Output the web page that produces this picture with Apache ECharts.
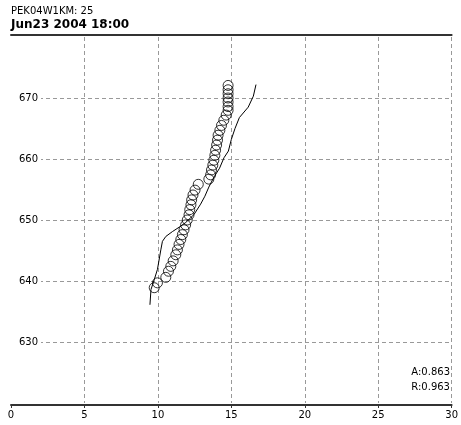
<!DOCTYPE html>
<html>
<head>
<meta charset="utf-8">
<script src="https://cdn.jsdelivr.net/npm/echarts@6/dist/echarts.min.js"></script>
<style>html,body{margin:0;padding:0;background:#fff;}#c{width:461px;height:425px;}</style>
</head>
<body>
<div id="c"></div>
<script>
// Station / time labels
const stationLabel = 'PEK04W1KM: 25';
const timeLabel = 'Jun23 2004 18:00';
const statsLabels = ['A:0.863', 'R:0.963'];

// Axis tick ranges
const xTicks = [0, 5, 10, 15, 20, 25, 30];
const yTicks = [630, 640, 650, 660, 670];

// Solid line profile [x, height]
const lineX = [9.46, 9.53, 9.75, 9.97, 10.2, 10.31, 10.54, 10.99, 11.5, 11.9, 12.46, 12.91, 13.2, 13.47, 13.81, 14.2, 14.5, 14.8, 15.0, 15.25, 15.55, 16.15, 16.5, 16.68];
const lineY = [636.1, 638.6, 640.2, 641.9, 645.1, 646.5, 647.3, 648.1, 648.9, 649.6, 650.9, 652.6, 653.9, 655.4, 657.0, 658.5, 660.2, 661.3, 663.2, 665.0, 666.8, 668.5, 670.3, 672.2];

// Circle observations [x, height]
const circleX = [9.75, 9.97, 10.54, 10.72, 10.88, 11.04, 11.22, 11.33, 11.44, 11.56, 11.67, 11.78, 11.89, 12.0, 12.12, 12.17, 12.25, 12.3, 12.39, 12.53, 12.75, 13.47, 13.59, 13.65, 13.74, 13.81, 13.88, 13.93, 14.0, 14.06, 14.1, 14.22, 14.33, 14.49, 14.65, 14.78, 14.78, 14.78, 14.78, 14.78, 14.78, 14.78];
const circleY = [638.9, 639.7, 640.6, 641.6, 642.4, 643.3, 644.3, 645.1, 646.0, 646.8, 647.6, 648.4, 649.2, 650.0, 650.85, 651.7, 652.5, 653.3, 654.1, 654.9, 655.85, 656.7, 657.4, 658.2, 659.0, 659.8, 660.6, 661.45, 662.3, 663.1, 663.9, 664.7, 665.5, 666.35, 667.2, 667.98, 668.6, 669.35, 670.0, 670.7, 671.35, 672.06];

const lineData = lineX.map((x, i) => [x, lineY[i]]);
const circleData = circleX.map((x, i) => [x, circleY[i]]);

const FONT = 'DejaVu Sans';
const chart = echarts.init(document.getElementById('c'), null, {renderer: 'canvas'});
chart.setOption({
  animation: false,
  backgroundColor: '#fff',
  title: [
    {text: stationLabel, left: 11, top: 6, padding: 0,
     textStyle: {fontFamily: FONT, fontSize: 10, fontWeight: 'normal', color: '#000'}},
    {text: timeLabel, left: 11, top: 19, padding: 0,
     textStyle: {fontFamily: FONT, fontSize: 12, fontWeight: 'bold', color: '#000'}},
    {text: statsLabels.join('\n'), right: 11, top: 365, padding: 0,
     textStyle: {fontFamily: FONT, fontSize: 10, fontWeight: 'normal', color: '#000', lineHeight: 15, align: 'right'}}
  ],
  grid: {left: 11, right: 7, top: 37, bottom: 22},
  xAxis: [{
    type: 'value', min: xTicks[0], max: xTicks[xTicks.length - 1], interval: 5,
    position: 'bottom', offset: 2,
    axisLine: {show: true, onZero: false, lineStyle: {color: '#333', width: 2}},
    axisTick: {show: true, length: 3, lineStyle: {color: '#333', width: 1}},
    axisLabel: {fontFamily: FONT, fontSize: 10, color: '#000', margin: 5},
    splitLine: {show: true, showMinLine: false, showMaxLine: true,
      lineStyle: {color: '#999', width: 1, type: [4, 3]}}
  }, {
    type: 'value', min: xTicks[0], max: xTicks[xTicks.length - 1],
    position: 'top', offset: 2,
    axisLine: {show: true, onZero: false, lineStyle: {color: '#333', width: 2}},
    axisTick: {show: false}, axisLabel: {show: false}, splitLine: {show: false}
  }],
  yAxis: {
    type: 'value', min: 620, max: 680, interval: 10,
    axisLine: {show: false}, axisTick: {show: false},
    axisLabel: {
      inside: true, align: 'right', margin: 30,
      showMinLabel: false, showMaxLabel: false,
      fontFamily: FONT, fontSize: 10, color: '#000',
      backgroundColor: '#fff', padding: [2, 3, 2, 12]
    },
    splitLine: {show: true, showMinLine: false, showMaxLine: false,
      lineStyle: {color: '#999', width: 1, type: [4, 3]}}
  },
  series: [{
    type: 'scatter', data: circleData, symbol: 'circle', symbolSize: 10,
    itemStyle: {color: 'rgba(0,0,0,0)', borderColor: '#000', borderWidth: 1},
    emphasis: {disabled: true}, z: 3
  }, {
    type: 'line', data: lineData, showSymbol: false, symbol: 'none',
    lineStyle: {color: '#000', width: 1}, emphasis: {disabled: true}, z: 4
  }]
});
</script>
</body>
</html>
